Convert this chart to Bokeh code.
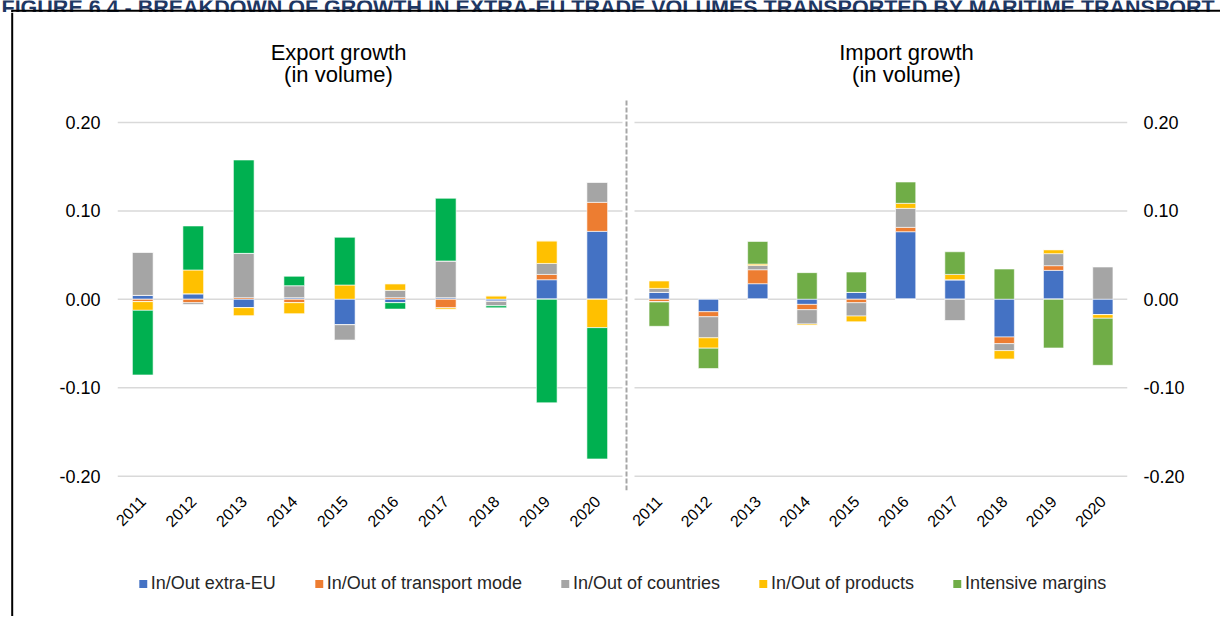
import math
from bokeh.plotting import figure
from bokeh.models import (Range1d, LinearAxis, FixedTicker, ColumnDataSource,
                          Legend, LegendItem)
from bokeh.layouts import column, row
from bokeh.core.properties import value
from bokeh.embed import file_html
from bokeh.resources import INLINE

# ---------------- data ----------------
figure_title = "FIGURE 6.4 - BREAKDOWN OF GROWTH IN EXTRA-EU TRADE VOLUMES TRANSPORTED BY MARITIME TRANSPORT"
years = ["2011", "2012", "2013", "2014", "2015", "2016", "2017", "2018", "2019", "2020"]
series_names = ["In/Out extra-EU", "In/Out of transport mode", "In/Out of countries",
                "In/Out of products", "Intensive margins"]

export_extra_eu  = [0.0045, 0.0064, -0.0094, 0.0019, -0.0287, -0.0038, 0.0019, -0.0019, 0.0222, 0.0769]
export_transport = [-0.0026, -0.0038, 0.0019, -0.0038, 0.0000, 0.0019, -0.0098, -0.0005, 0.0060, 0.0328]
export_countries = [0.0490, -0.0026, 0.0501, 0.0136, -0.0177, 0.0083, 0.0415, -0.0049, 0.0124, 0.0230]
export_products  = [-0.0098, 0.0268, -0.0094, -0.0128, 0.0162, 0.0075, -0.0019, 0.0040, 0.0256, -0.0320]
export_intensive = [-0.0731, 0.0498, 0.1056, 0.0106, 0.0540, -0.0072, 0.0709, -0.0023, -0.1170, -0.1485]

import_extra_eu  = [0.0079, -0.0140, 0.0177, -0.0057, 0.0079, 0.0765, 0.0222, -0.0426, 0.0328, -0.0173]
import_transport = [-0.0030, -0.0057, 0.0158, -0.0060, -0.0038, 0.0049, 0.0000, -0.0075, 0.0053, 0.0000]
import_countries = [0.0045, -0.0238, 0.0049, -0.0162, -0.0151, 0.0215, -0.0245, -0.0079, 0.0136, 0.0370]
import_products  = [0.0087, -0.0117, 0.0015, -0.0015, -0.0068, 0.0057, 0.0060, -0.0098, 0.0045, -0.0041]
import_intensive = [-0.0275, -0.0230, 0.0256, 0.0302, 0.0230, 0.0241, 0.0256, 0.0343, -0.0550, -0.0532]

y_ticks = [-0.2, -0.1, 0.0, 0.1, 0.2]
y_tick_labels = ["-0.20", "-0.10", "0.00", "0.10", "0.20"]
panel_titles = [["Export growth", "(in volume)"], ["Import growth", "(in volume)"]]

# ---------------- styles / layout (page pixel positions) ----------------
colors_exp = ["#4472C4", "#ED7D31", "#A5A5A5", "#FFC000", "#00B050"]
colors_imp = ["#4472C4", "#ED7D31", "#A5A5A5", "#FFC000", "#70AD47"]
FONT = "Liberation Sans"
COMMON = dict(toolbar_location=None, output_backend="svg")

PAGE_W = 1220
TOP_H = 12            # strip with the (cut) figure caption and frame top line
LEFT_W = 14           # strip with the frame left line
OX, OY = LEFT_W, TOP_H

W_P = PAGE_W - OX
H_CHART = 546
H_LEG = 50
FRAME_L = 117 - OX
FRAME_R = 1127 - OX
FRAME_W = FRAME_R - FRAME_L
FRAME_H = 490 - OY
LEFT_PX = 50.5            # px per category, export panel
RIGHT_PX = 49.3           # px per category, import panel
RIGHT_PANEL_L = 634 - OX
Y0_PX, Y1_PX = 122 - OY, 475.7 - OY   # canvas y of 0.2 and -0.2
Y_PER_PX = 0.4 / (Y1_PX - Y0_PX)
BAR_W = 0.41

EXP_START = -0.5
IMP_START = -0.5 - (RIGHT_PANEL_L - FRAME_L) / RIGHT_PX
y_top = 0.2 + Y0_PX * Y_PER_PX
y_bot = -0.2 - (FRAME_H - Y1_PX) * Y_PER_PX


def ydata(page_y):
    return 0.2 + (Y0_PX - (page_y - OY)) * Y_PER_PX


# ---------------- top strip ----------------
top = figure(width=PAGE_W, height=TOP_H, x_range=Range1d(0, PAGE_W), y_range=Range1d(TOP_H, 0),
             min_border=0, x_axis_location=None, y_axis_location=None, **COMMON)
top.outline_line_color = None
top.grid.visible = False
top.text(x=[1], y=[7], text=[figure_title], text_font=value(FONT), text_font_style="bold",
         text_font_size=value("21.5px"), text_color="#1F3864", text_baseline="alphabetic")
top.segment(x0=[10.7], x1=[PAGE_W], y0=[10.2], y1=[10.2], line_color="black", line_width=2)
top.segment(x0=[11.7], x1=[11.7], y0=[10.2], y1=[TOP_H], line_color="black", line_width=2)

# ---------------- left strip ----------------
LEFT_H = 616 - TOP_H
lft = figure(width=LEFT_W, height=LEFT_H, x_range=Range1d(0, LEFT_W), y_range=Range1d(LEFT_H, 0),
             min_border=0, x_axis_location=None, y_axis_location=None, **COMMON)
lft.outline_line_color = None
lft.grid.visible = False
lft.segment(x0=[11.7], x1=[11.7], y0=[0], y1=[LEFT_H], line_color="black", line_width=2)

# ---------------- chart ----------------
p = figure(width=W_P, height=H_CHART,
           x_range=Range1d(EXP_START, EXP_START + FRAME_W / LEFT_PX),
           y_range=Range1d(y_bot, y_top),
           min_border_left=FRAME_L, min_border_right=W_P - FRAME_R,
           min_border_top=0, min_border_bottom=H_CHART - FRAME_H, **COMMON)
p.extra_x_ranges = {"imp": Range1d(IMP_START, IMP_START + FRAME_W / RIGHT_PX)}
p.outline_line_color = None
p.xgrid.visible = False
p.ygrid.visible = False

n = len(years)
for rn in (None, "imp"):
    kw = {"x_range_name": rn} if rn else {}
    p.segment(x0=[-0.5] * len(y_ticks), x1=[n - 0.5] * len(y_ticks), y0=y_ticks, y1=y_ticks,
              line_color="#D9D9D9", line_width=1.5, **kw)


def add_stack(values_list, colors, range_name=None):
    data = {"x": list(range(n))}
    for k, vals in enumerate(values_list):
        data[f"p{k}"] = [max(v, 0.0) for v in vals]
        data[f"n{k}"] = [min(v, 0.0) for v in vals]
    src = ColumnDataSource(data)
    kw = dict(x="x", width=BAR_W, source=src, fill_color=colors,
              line_color="white", line_width=0.6)
    if range_name:
        kw["x_range_name"] = range_name
    p.vbar_stack([f"p{k}" for k in range(len(values_list))], **kw)
    p.vbar_stack([f"n{k}" for k in range(len(values_list))], **kw)


add_stack([export_extra_eu, export_transport, export_countries, export_products, export_intensive],
          colors_exp)
add_stack([import_extra_eu, import_transport, import_countries, import_products, import_intensive],
          colors_imp, "imp")

# dashed divider between the two panels
xd = EXP_START + (626 - OX - FRAME_L) / LEFT_PX
p.segment(x0=[xd], x1=[xd], y0=[ydata(100)], y1=[y_bot],
          line_color="#A6A6A6", line_width=2, line_dash="5 2")

# panel titles
title_x = [EXP_START + (338 - OX - FRAME_L) / LEFT_PX,
           IMP_START + (906 - OX - FRAME_L) / RIGHT_PX]
title_y = [ydata(52.3), ydata(74.3)]
for i, rn in enumerate((None, "imp")):
    kw = {"x_range_name": rn} if rn else {}
    p.text(x=[title_x[i]] * 2, y=title_y, text=panel_titles[i],
           text_font=value(FONT), text_font_size=value("22px"), text_color="#000000",
           text_align="center", text_baseline="alphabetic", **kw)


def imp_to_exp(u):
    cx = FRAME_L + (u - IMP_START) * RIGHT_PX
    return EXP_START + (cx - FRAME_L) / LEFT_PX


left_ticks = [float(i) for i in range(n)]
right_ticks = [round(imp_to_exp(i), 4) for i in range(n)]
xt = left_ticks + right_ticks
xa = p.xaxis[0]
xa.ticker = FixedTicker(ticks=xt)
xa.major_label_overrides = {t: y for t, y in zip(xt, years + years)}
xa.major_label_orientation = math.pi / 4
xa.axis_line_color = None
xa.major_tick_line_color = None
xa.minor_tick_line_color = None
xa.major_tick_out = 0
xa.major_tick_in = 0
xa.major_label_standoff = 8
xa.major_label_text_font = FONT
xa.major_label_text_font_size = "16px"
xa.major_label_text_color = "#000000"

p.add_layout(LinearAxis(), "right")
for ax, st in zip(p.yaxis, (17, 16)):
    ax.ticker = FixedTicker(ticks=y_ticks)
    ax.major_label_overrides = {t: l for t, l in zip(y_ticks, y_tick_labels)}
    ax.axis_line_color = None
    ax.major_tick_line_color = None
    ax.minor_tick_line_color = None
    ax.major_tick_out = 0
    ax.major_tick_in = 0
    ax.major_label_standoff = st
    ax.major_label_text_font = FONT
    ax.major_label_text_font_size = "18px"
    ax.major_label_text_color = "#000000"

# ---------------- legend strip ----------------
LEG_CENTER = 622 - OX
lf = figure(width=W_P, height=H_LEG, x_range=Range1d(0, 1), y_range=Range1d(0, 1),
            min_border_left=2 * LEG_CENTER - W_P, min_border_right=0,
            min_border_top=0, min_border_bottom=0,
            x_axis_location=None, y_axis_location=None, **COMMON)
lf.outline_line_color = None
lf.grid.visible = False
items = []
for name, c in zip(series_names, colors_imp):
    # zero-height proxy bar: only its colour is used, for the legend swatch
    r = lf.vbar(x=[0.5], top=[0], bottom=[0], width=0.01, fill_color=c, line_color=None)
    items.append(LegendItem(label=name, renderers=[r]))
leg = Legend(items=items, orientation="horizontal", location="center",
             glyph_width=10, glyph_height=10, label_standoff=3, spacing=38,
             padding=0, margin=0, border_line_color=None, background_fill_alpha=0,
             label_text_font=FONT, label_text_font_size="18px", label_text_color="#262626")
lf.add_layout(leg)

layout = column(top, row(lft, column(p, lf, spacing=0), spacing=0), spacing=0)
open("out.html", "w").write(file_html(layout, INLINE))
